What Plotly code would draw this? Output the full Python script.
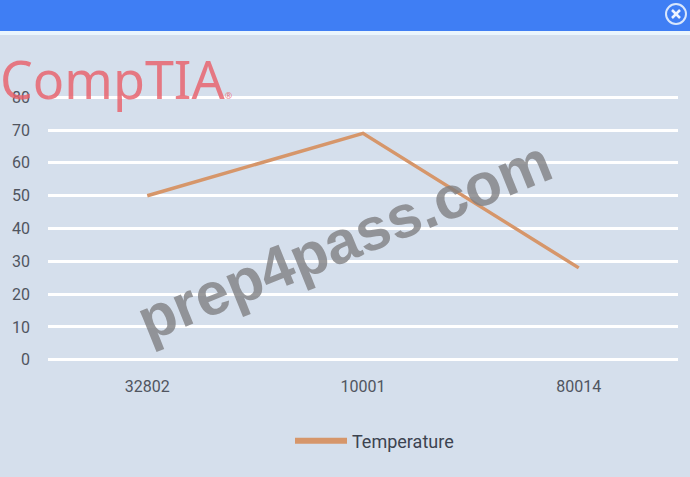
import plotly.graph_objects as go

# chart data
zip_codes = ["32802", "10001", "80014"]
temperature = [50, 69, 28]
y_ticks = [0, 10, 20, 30, 40, 50, 60, 70, 80]

W, H = 690, 477
ML, MR, MT, MB = 48, 12, 94, 114
PW, PH = W - ML - MR, H - MT - MB
LINE_COLOR = "#d6966a"


def px(x):
    # pixel x -> paper x
    return (x - ML) / PW


def py(y):
    # pixel y (from top) -> paper y
    return (H - MB - y) / PH


fig = go.Figure()
fig.add_trace(go.Scatter(
    x=list(range(len(zip_codes))), y=temperature, mode="lines",
    name="Temperature", showlegend=False,
    line=dict(color=LINE_COLOR, width=3.5),
))
# legend entry only (thicker swatch, like the original)
fig.add_trace(go.Scatter(
    x=[None], y=[None], mode="lines", name="Temperature",
    line=dict(color=LINE_COLOR, width=6),
))

fig.update_layout(
    width=W, height=H,
    margin=dict(l=ML, r=MR, t=MT, b=MB),
    paper_bgcolor="#d5dfec",
    plot_bgcolor="#d5dfec",
    font=dict(family="Roboto, Arial, sans-serif", color="#50555f", size=16),
    showlegend=True,
    legend=dict(orientation="h", x=px(290), xanchor="left", y=py(441),
                yanchor="middle", itemwidth=52,
                font=dict(size=18, color="#3c4350"),
                bgcolor="rgba(0,0,0,0)"),
    xaxis=dict(range=[-0.46, 2.46], tickvals=list(range(len(zip_codes))),
               ticktext=zip_codes, showgrid=False, zeroline=False,
               showline=False, ticks="", ticklabelstandoff=12),
    yaxis=dict(range=[-1, 81], tickvals=y_ticks, showgrid=True,
               gridcolor="#ffffff", gridwidth=3, zeroline=False,
               showline=False, ticks="", ticklabelstandoff=17),
)

# window header bar with close button
fig.add_shape(type="rect", xref="paper", yref="paper",
              x0=px(0), x1=px(W), y0=py(31), y1=py(-2),
              fillcolor="#3f7ef4", line_width=0, layer="above")
fig.add_shape(type="rect", xref="paper", yref="paper",
              x0=px(0), x1=px(W), y0=py(35), y1=py(31),
              fillcolor="#eaf5fd", line_width=0, layer="above")
fig.add_shape(type="circle", xref="paper", yref="paper",
              x0=px(666), x1=px(686), y0=py(24), y1=py(4),
              line=dict(color="#d8e6fc", width=2), layer="above")
for a, b in [((672, 10), (680, 18)), ((672, 18), (680, 10))]:
    fig.add_shape(type="line", xref="paper", yref="paper",
                  x0=px(a[0]), y0=py(a[1]), x1=px(b[0]), y1=py(b[1]),
                  line=dict(color="#eef4ff", width=2.5), layer="above")

# logo and watermark
fig.add_annotation(text="CompTIA<span style='font-size:9px'>®</span>",
                   xref="paper", yref="paper", x=px(-2), y=py(79),
                   xanchor="left", yanchor="middle", showarrow=False,
                   font=dict(family="Noto Sans, Arial", size=52,
                             color="rgba(232,96,106,0.82)"))
fig.add_annotation(text="<b>prep4pass.com</b>", xref="paper", yref="paper",
                   x=px(344), y=py(240), showarrow=False, textangle=-22,
                   font=dict(family="Liberation Sans, Arial", size=60,
                             color="rgba(125,125,128,0.78)"))

fig.write_html("out.html", config={"displayModeBar": False},
               post_script="document.body.style.margin='0';")
